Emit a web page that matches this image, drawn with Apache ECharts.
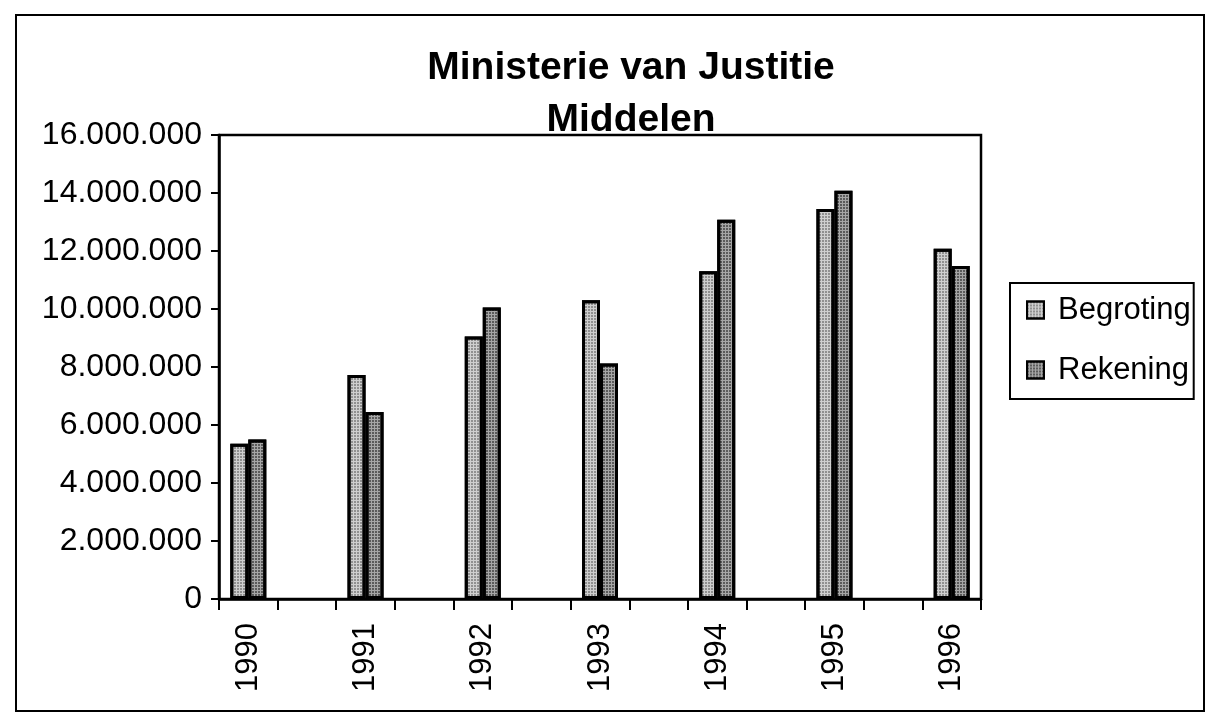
<!DOCTYPE html>
<html>
<head>
<meta charset="utf-8">
<style>
  html, body { margin: 0; padding: 0; background: #fff; }
  #chart { width: 1209px; height: 715px; }
</style>
<script src="https://cdn.jsdelivr.net/npm/echarts@6/dist/echarts.min.js"></script>
</head>
<body>
<div id="chart"></div>
<script>
(function () {
  "use strict";

  var years = ["1990", "1991", "1992", "1993", "1994", "1995", "1996"];
  var begroting = [5350000, 7720000, 9050000, 10300000, 11300000, 13450000, 12080000];
  var rekening = [5500000, 6450000, 10050000, 8120000, 13080000, 14080000, 11480000];
  var yTicks = [0, 2000000, 4000000, 6000000, 8000000, 10000000, 12000000, 14000000, 16000000];

  var FONT = "Liberation Sans, Arial, sans-serif";
  var INK = "#000";

  // every year is followed by an empty slot, like the original sheet
  var slots = [];
  var slotB = [];
  var slotR = [];
  years.forEach(function (y, i) {
    slots.push(y);
    slotB.push(begroting[i]);
    slotR.push(rekening[i]);
    if (i < years.length - 1) {
      slots.push("_" + i);
      slotB.push("-");
      slotR.push("-");
    }
  });

  function dotted(v) {
    return String(v).replace(/\B(?=(\d{3})+(?!\d))/g, ".");
  }

  var chart = echarts.init(document.getElementById("chart"));
  var tickLine = { color: INK, width: 2 };

  chart.setOption({
    backgroundColor: "#fff",
    animation: false,
    title: {
      text: "Ministerie van Justitie\nMiddelen",
      left: 626,
      top: 37,
      textAlign: "center",
      textStyle: { fontFamily: FONT, fontSize: 39, fontWeight: "bold", color: INK, lineHeight: 52 }
    },
    legend: {
      orient: "vertical",
      left: 1010,
      top: 283,
      padding: [10, 3, 12, 16],
      borderColor: INK,
      borderWidth: 2,
      icon: "rect",
      itemWidth: 17,
      itemHeight: 17,
      itemGap: 26,
      textStyle: { fontFamily: FONT, fontSize: 31, color: INK, lineHeight: 34, padding: [0, 0, 0, 9] },
      data: ["Begroting", "Rekening"]
    },
    graphic: [{
      type: "rect",
      shape: { x: 16, y: 15, width: 1188, height: 696 },
      style: { fill: "none", stroke: INK, lineWidth: 2 },
      silent: true,
      z: -1
    }],
    grid: {
      left: 219,
      right: 228,
      top: 135,
      bottom: 116,
      show: true,
      borderColor: INK,
      borderWidth: 2.5,
      backgroundColor: "transparent"
    },
    xAxis: {
      type: "category",
      data: slots,
      boundaryGap: true,
      axisLine: { lineStyle: { color: INK, width: 2.5 } },
      axisTick: { show: true, interval: 0, length: 11, lineStyle: tickLine },
      axisLabel: {
        interval: 0,
        rotate: 90,
        margin: 24,
        fontFamily: FONT,
        fontSize: 31,
        color: INK,
        formatter: function (v) { return v.charAt(0) === "_" ? "" : v; }
      }
    },
    yAxis: {
      type: "value",
      min: yTicks[0],
      max: yTicks[yTicks.length - 1],
      interval: yTicks[1] - yTicks[0],
      splitLine: { show: false },
      axisLine: { show: true, lineStyle: { color: INK, width: 2.5 } },
      axisTick: { show: true, length: 8, lineStyle: tickLine },
      axisLabel: {
        margin: 17,
        fontFamily: FONT,
        fontSize: 32,
        color: INK,
        formatter: function (v) { return dotted(v); }
      }
    },
    series: [
      {
        name: "Begroting",
        type: "bar",
        data: slotB,
        barWidth: 18,
        barGap: "0%",
        itemStyle: {
          color: "#cfcfcf",
          borderColor: INK,
          borderWidth: 3,
          decal: { symbol: "rect", symbolSize: 1, dashArrayX: [2, 1], dashArrayY: [2, 1], color: "rgba(0,0,0,0.3)" }
        }
      },
      {
        name: "Rekening",
        type: "bar",
        data: slotR,
        barWidth: 18,
        barGap: "0%",
        itemStyle: {
          color: "#a6a6a6",
          borderColor: INK,
          borderWidth: 3,
          decal: { symbol: "rect", symbolSize: 1, dashArrayX: [2, 1], dashArrayY: [2, 1], color: "rgba(0,0,0,0.45)" }
        }
      }
    ]
  });
})();
</script>
</body>
</html>
